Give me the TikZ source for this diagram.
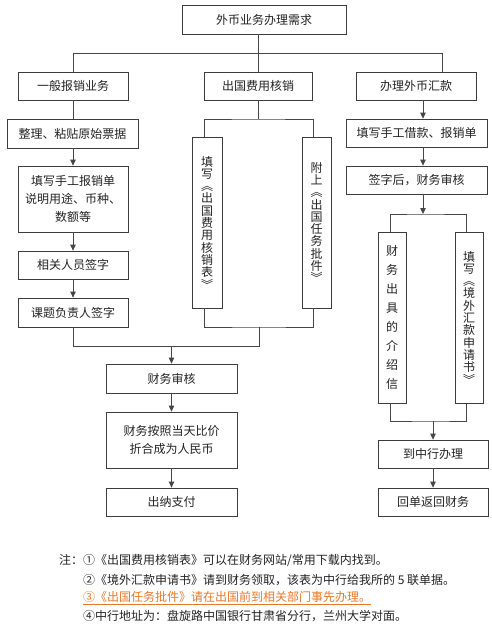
\documentclass[tikz,border=0pt]{standalone}
\usepackage{fontspec}
\setmainfont{Noto Sans CJK SC}
\usetikzlibrary{arrows.meta}
\definecolor{boxline}{RGB}{60,60,60}
\definecolor{linegray}{RGB}{70,70,70}
\definecolor{inktext}{RGB}{35,35,35}
\definecolor{notice}{RGB}{232,120,40}
\tikzset{
  flowbox/.style={draw=boxline, line width=0.8pt, fill=white, inner sep=0pt, align=center,
    font=\fontsize{12}{18}\selectfont, text=inktext},
  vbox/.style={flowbox, minimum width=29pt, minimum height=171pt, font=\fontsize{12}{12.3}\selectfont},
  wire/.style={draw=linegray, line width=0.8pt},
  flow/.style={wire, -{Triangle[width=5.5pt,length=6pt]}},
  notetext/.style={anchor=west, inner sep=0pt, font=\fontsize{12}{14}\selectfont, text=inktext}
}
\begin{document}
\begin{tikzpicture}[x=1pt, y=-1pt]
  \fill[white] (0,0) rectangle (492,627);
  \useasboundingbox (0,0) rectangle (492,627);
  % top and second row
  \node[flowbox, minimum width=164pt, minimum height=29pt] (need) at (264,19.5) {外币业务办理需求};
  \node[flowbox, minimum width=110pt, minimum height=28pt] (general) at (73,86) {一般报销业务};
  \node[flowbox, minimum width=108pt, minimum height=28pt] (abroad) at (258,86) {出国费用核销};
  \node[flowbox, minimum width=120pt, minimum height=28pt] (remit) at (416,86) {办理外币汇款};
  % left column
  \node[flowbox, minimum width=131pt, minimum height=29pt] (paste) at (72.5,133.5) {整理、粘贴原始票据};
  \node[flowbox, minimum width=110pt, minimum height=66pt] (form) at (73,199) {填写手工报销单\\说明用途、币种、\\数额等};
  \node[flowbox, minimum width=110pt, minimum height=28pt] (staff) at (73,265) {相关人员签字};
  \node[flowbox, minimum width=110pt, minimum height=29pt] (leader) at (73,312.5) {课题负责人签字};
  % middle column
  \node[vbox, minimum width=30pt] (costform) at (207,222.5) {填\\写\\︽\\出\\国\\费\\用\\核\\销\\表\\︾};
  \node[vbox] (permit) at (316.5,222.5) {附\\上\\︽\\出\\国\\任\\务\\批\\件\\︾};
  \node[flowbox, minimum width=131pt, minimum height=29pt] (audit) at (171.5,378.5) {财务审核};
  \node[flowbox, minimum width=131pt, minimum height=56pt] (convert) at (171.5,440) {财务按照当天比价\\折合成为人民币};
  \node[flowbox, minimum width=131pt, minimum height=28pt] (cashier) at (171.5,502) {出纳支付};
  % right column
  \node[flowbox, minimum width=141pt, minimum height=28pt] (loan) at (416.5,133) {填写手工借款、报销单};
  \node[flowbox, minimum width=141pt, minimum height=28pt] (check) at (416.5,180) {签字后，财务审核};
  \node[vbox, minimum width=28pt, font=\fontsize{12}{19.1}\selectfont] (letter) at (392,317.5) {财\\务\\出\\具\\的\\介\\绍\\信};
  \node[vbox, minimum width=28pt] (apply) at (469,317.5) {填\\写\\︽\\境\\外\\汇\\款\\申\\请\\书\\︾};
  \node[flowbox, minimum width=110pt, minimum height=28pt] (bank) at (433,454) {到中行办理};
  \node[flowbox, minimum width=110pt, minimum height=28pt] (receipt) at (433,502) {回单返回财务};
  % top split
  \coordinate (split) at (258,53);
  \coordinate (remitdrop) at (442,72);
  \draw[wire] (need.south -| abroad) -- (split);
  \draw[wire] (general.north) |- (split) -- (abroad.north);
  \draw[wire] (split) -| (remitdrop);
  % left chain
  \draw[wire] (general.south) -- (general.south |- paste.north);
  \draw[flow] (paste.south -| form) -- (form.north);
  \draw[flow] (form.south) -- (staff.north);
  \draw[flow] (staff.south) -- (leader.north);
  % middle fork and merge
  \coordinate (fork) at (258,119);
  \coordinate (merge) at (259,327);
  \coordinate (join) at (259,346);
  \draw[wire] (abroad.south) -- (fork);
  \draw[wire] ([xshift=-3pt]costform.north) |- (fork) -| ([xshift=-3.5pt]permit.north);
  \draw[wire] ([xshift=-3pt]costform.south) |- (merge) -| ([xshift=-3.5pt]permit.south);
  \draw[wire] (merge) -- (join) -- (leader.south |- join) -- (leader.south);
  \draw[flow] (join -| audit) -- (audit.north);
  \draw[flow] (audit.south) -- (convert.north);
  \draw[flow] (convert.south) -- (cashier.north);
  % right chain
  \coordinate (rspine) at (423,0);
  \coordinate (rfork) at (423,214);
  \coordinate (rmerge) at (433,421);
  \draw[flow] (remit.south -| rspine) -- (loan.north -| rspine);
  \draw[flow] (loan.south -| rspine) -- (check.north -| rspine);
  \draw[wire] ([xshift=-2pt]letter.north) |- (rfork) -| ([xshift=-2.5pt]apply.north);
  \draw[flow] (check.south -| rspine) -- (rfork);
  \draw[wire] ([xshift=-2pt]letter.south) |- (rmerge) -| ([xshift=-2.5pt]apply.south);
  \draw[flow] (rmerge) -- (bank.north);
  \draw[flow] (bank.south) -- (receipt.north);
  % notes
  \node[notetext] (note1) at (59,560) {注：①《出国费用核销表》可以在财务网站/常用下载内找到。};
  \node[notetext] (note2) at (83,580) {②《境外汇款申请书》请到财务领取，该表为中行给我所的 5 联单据。};
  \node[notetext, text=notice] (note3) at (83,598) {\underline{③《出国任务批件》请在出国前到相关部门事先办理。}};
  \node[notetext] (note4) at (83,616) {④中行地址为：盘旋路中国银行甘肃省分行，兰州大学对面。};
\end{tikzpicture}
\end{document}
